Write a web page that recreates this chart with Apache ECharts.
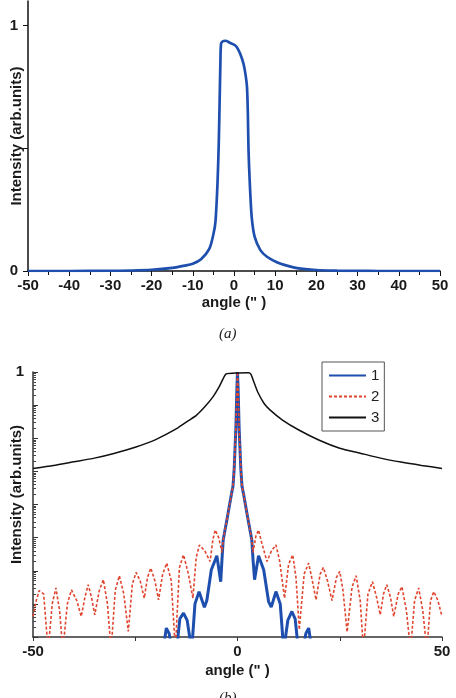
<!DOCTYPE html>
<html>
<head>
<meta charset="utf-8">
<title>Intensity vs angle</title>
<script src="https://cdn.jsdelivr.net/npm/echarts@6/dist/echarts.min.js"></script>
<style>
  html, body { margin: 0; padding: 0; background: #fff; }
  #main { width: 456px; height: 698px; }
</style>
</head>
<body>
<div id="main"></div>
<script>
// (a) linear intensity profile
var aAngle = [-50, -40, -30, -25, -20, -15, -12, -10, -8, -6, -5, -4.5, -4, -3.7, -3.5, -3.3, -3.15, -2.8, -2.1, -1, 0, 0.7, 1.5, 2.3, 2.8, 3.15, 3.35, 3.55, 4, 4.35, 5, 6.4, 8, 10.4, 12, 15.3, 20, 25, 30, 35, 50];
var aIntensity = [0, 0, 0.001, 0.002, 0.005, 0.013, 0.022, 0.03, 0.048, 0.09, 0.15, 0.2, 0.36, 0.52, 0.68, 0.85, 0.925, 0.935, 0.938, 0.93, 0.922, 0.912, 0.885, 0.845, 0.8, 0.75, 0.65, 0.48, 0.3, 0.21, 0.14, 0.085, 0.058, 0.036, 0.026, 0.012, 0.004, 0.0015, 0.0004, 0, 0];

// (b) log profiles, values read as log10(intensity)
var b1Angle = [-19, -18.2, -17.4, -16.7, -15.8, -14.9, -14.1, -13.2, -12.3, -11.2, -10.4, -9.4, -8.1, -7.5, -6.4, -5.05, -4.1, -3.8, -3.5, -2.5, -1.5, -1.1, -0.8, -0.4, -0.15, 0, 0.15, 0.4, 0.8, 1.1, 1.5, 2.5, 3.5, 3.8, 4.17, 5.15, 6.4, 7.6, 8.25, 9.4, 10.45, 11.3, 12.3, 13.3, 14.1, 14.9, 15.8, 16.7, 17.4, 18.2, 19];
var b1Log = [-8.8, -8.4, -7.73, -7.9, -8.6, -8.4, -7.45, -7.28, -7.5, -8.4, -7.0, -6.63, -7.1, -6.9, -5.97, -5.55, -6.33, -5.67, -5.07, -4.4, -3.7, -3.45, -2.9, -1.7, -0.5, 0, -0.5, -1.7, -2.9, -3.45, -3.7, -4.4, -5.07, -5.67, -6.27, -5.55, -5.97, -6.93, -7.1, -6.63, -7.0, -8.4, -7.5, -7.23, -7.45, -8.4, -8.6, -7.9, -7.73, -8.4, -8.8];

var b2Angle = [-50, -49.2, -48.5, -47.4, -46.3, -45.3, -44.4, -43.5, -42.7, -41.6, -40.6, -39.3, -38.2, -37.3, -36.5, -35.7, -34.9, -33.8, -32.8, -31.8, -30.9, -29.9, -28.9, -27.8, -26.7, -25.7, -24.8, -23.8, -22.8, -22.0, -21.2, -20.2, -19.3, -18.3, -17.3, -16.2, -15.2, -14.2, -13.2, -12.0, -10.9, -10.1, -9.3, -8.0, -6.7, -6.0, -5.46, -4.6, -3.8, -3.5, -2.5, -1.5, -1.1, -0.8, -0.4, -0.15, 0, 0.15, 0.4, 0.8, 1.1, 1.5, 2.5, 3.5, 3.8, 4.5, 5.15, 5.8, 7.2, 8.3, 9.4, 10.3, 11.5, 12.5, 13.5, 14.3, 15.1, 16.3, 17.4, 18.3, 19.2, 20.2, 21.0, 22.0, 23.1, 24.2, 25.0, 25.8, 26.8, 28.0, 29.0, 30.0, 30.8, 31.9, 33.0, 34.0, 34.9, 35.7, 36.5, 37.4, 38.2, 39.3, 40.2, 41.3, 42.3, 43.3, 44.3, 45.3, 46.3, 47.2, 48.0, 49.0, 50];
var b2Log = [-7.38, -6.9, -6.6, -6.7, -8.4, -7.0, -6.52, -7.2, -8.4, -7.0, -6.58, -6.9, -7.38, -6.8, -6.42, -6.8, -7.33, -6.6, -6.27, -7.0, -8.4, -6.6, -6.15, -6.7, -7.83, -6.4, -6.05, -6.3, -6.83, -6.2, -5.92, -6.3, -6.88, -6.1, -5.77, -6.3, -8.4, -5.9, -5.52, -6.1, -6.83, -5.6, -5.22, -5.4, -5.72, -5.05, -4.77, -5.0, -5.45, -5.07, -4.4, -3.7, -3.45, -2.9, -1.7, -0.5, 0, -0.5, -1.7, -2.9, -3.45, -3.7, -4.4, -5.07, -5.45, -4.95, -4.77, -5.1, -5.72, -5.4, -5.22, -5.7, -6.83, -5.8, -5.52, -6.2, -7.78, -6.1, -5.77, -6.3, -6.88, -6.1, -5.9, -6.3, -6.9, -6.2, -6.02, -6.6, -7.85, -6.5, -6.15, -6.9, -8.4, -6.7, -6.33, -6.8, -7.33, -6.7, -6.42, -6.8, -7.38, -6.7, -6.48, -7.2, -8.4, -6.9, -6.52, -7.2, -8.4, -6.9, -6.63, -6.9, -7.38];

var b3Angle = [-50, -45, -40, -35, -30, -25, -20, -15, -12, -10, -8, -6, -4.5, -3.5, -2.8, 0, 2.7, 3.3, 4, 5, 6.5, 8, 11, 15, 20, 25, 30, 35, 40, 45, 50];
var b3Log = [-2.91, -2.82, -2.71, -2.6, -2.45, -2.27, -2.04, -1.72, -1.47, -1.3, -1.05, -0.75, -0.45, -0.2, -0.06, -0.03, -0.02, -0.07, -0.3, -0.62, -0.95, -1.15, -1.45, -1.75, -2.06, -2.3, -2.45, -2.6, -2.72, -2.82, -2.91];

var xLabelsB = [-50, 0, 50];

var FONT = "'Liberation Sans', Arial, sans-serif";
var BLUE = '#1f4fae';
var RED = '#e0452f';

function pairs(xs, ys) {
  return xs.map(function (x, i) { return [x, ys[i]]; });
}
function logPairs(xs, ys) {
  return xs.map(function (x, i) { return [x, Math.pow(10, ys[i])]; });
}

var decades = [];
var minorLog = [];
for (var e = -8; e <= 0; e++) {
  decades.push(Math.pow(10, e));
  if (e < 0) {
    for (var m = 2; m <= 9; m++) minorLog.push(m * Math.pow(10, e));
  }
}

var labelStyle = { fontFamily: FONT, fontWeight: 'bold', fontSize: 15, color: '#1a1a1a' };
var nameStyle = { fontFamily: FONT, fontWeight: 'bold', fontSize: 15, color: '#1a1a1a' };

var chart = echarts.init(document.getElementById('main'));
chart.setOption({
  backgroundColor: '#ffffff',
  animation: false,
  grid: [
    { left: 28, top: 1, width: 412, height: 270, outerBoundsMode: 'none', containLabel: false },
    { left: 33, top: 372, width: 409, height: 265, outerBoundsMode: 'none', containLabel: false }
  ],
  legend: {
    data: ['1', '2', '3'],
    orient: 'vertical',
    left: 322,
    top: 362,
    padding: [6, 5, 6, 6],
    itemWidth: 37,
    itemHeight: 10,
    itemGap: 6,
    itemStyle: { opacity: 0 },
    borderColor: '#555',
    borderWidth: 1,
    textStyle: { fontFamily: FONT, fontSize: 15, color: '#222' }
  },
  xAxis: [
    {
      gridIndex: 0, type: 'value', min: -50, max: 50, interval: 10,
      name: 'angle (" )', nameLocation: 'middle', nameGap: 24, nameMoveOverlap: false, nameTextStyle: labelStyle,
      axisLine: { onZero: false, lineStyle: { color: '#111', width: 1.5 } },
      axisTick: { length: 5, lineStyle: { color: '#111' } },
      minorTick: { show: true, splitNumber: 2, length: 4, lineStyle: { color: '#111' } },
      splitLine: { show: false },
      axisLabel: Object.assign({ margin: 7 }, labelStyle)
    },
    {
      gridIndex: 1, type: 'value', min: -50, max: 50, interval: 25,
      name: 'angle (" )', nameLocation: 'middle', nameGap: 26, nameMoveOverlap: false, nameTextStyle: labelStyle,
      axisLine: { onZero: false, lineStyle: { color: '#333', width: 1.5 } },
      axisTick: { length: 4, lineStyle: { color: '#333' } },
      splitLine: { show: false },
      axisLabel: Object.assign({ margin: 7, customValues: xLabelsB }, labelStyle)
    }
  ],
  yAxis: [
    {
      gridIndex: 0, type: 'value', min: 0, max: 1.1, position: 'left',
      name: 'Intensity (arb.units)', nameLocation: 'middle', nameGap: 4, nameMoveOverlap: false, nameTextStyle: nameStyle,
      axisLine: { show: true, onZero: false, lineStyle: { color: '#111', width: 1.5 } },
      axisTick: { show: true, length: 5, customValues: [0, 0.5, 1], lineStyle: { color: '#111' } },
      splitLine: { show: false },
      axisLabel: Object.assign({ margin: 10, customValues: [0, 1] }, labelStyle)
    },
    {
      gridIndex: 1, type: 'log', logBase: 10, min: 1e-8, max: 1, position: 'left',
      name: 'Intensity (arb.units)', nameLocation: 'middle', nameGap: 8.5, nameMoveOverlap: false,
      nameTextStyle: Object.assign({ padding: [0, 0, 0, 20] }, nameStyle),
      axisLine: { show: true, onZero: false, lineStyle: { color: '#333', width: 1.5 } },
      axisTick: { show: true, inside: true, length: 5, customValues: decades, lineStyle: { color: '#333' } },
      splitLine: { show: false },
      axisLabel: Object.assign({ margin: 9, customValues: [1] }, labelStyle)
    },
    {
      gridIndex: 1, type: 'log', logBase: 10, min: 1e-8, max: 1, position: 'left', offset: 0,
      axisLine: { show: false, onZero: false },
      axisTick: { show: true, inside: true, length: 3, customValues: minorLog, lineStyle: { color: '#444' } },
      splitLine: { show: false },
      axisLabel: { show: false }
    }
  ],
  series: [
    {
      type: 'line', xAxisIndex: 0, yAxisIndex: 0, showSymbol: false, symbol: 'none',
      smooth: 0.3,
      lineStyle: { color: BLUE, width: 2.7 },
      data: pairs(aAngle, aIntensity)
    },
    {
      name: '1', type: 'line', xAxisIndex: 1, yAxisIndex: 1, symbol: 'none',
      itemStyle: { color: BLUE },
      lineStyle: { color: BLUE, width: 3 },
      data: logPairs(b1Angle, b1Log)
    },
    {
      name: '2', type: 'line', xAxisIndex: 1, yAxisIndex: 1, symbol: 'none',
      itemStyle: { color: RED },
      lineStyle: { color: RED, width: 1.6, type: [3, 2] },
      data: logPairs(b2Angle, b2Log)
    },
    {
      name: '3', type: 'line', xAxisIndex: 1, yAxisIndex: 1, symbol: 'none',
      smooth: 0.2,
      itemStyle: { color: '#111' },
      lineStyle: { color: '#111', width: 1.5 },
      data: logPairs(b3Angle, b3Log)
    }
  ],
  graphic: [
    { type: 'text', left: 219, top: 327, style: { text: '(a)', font: 'italic 15px "Liberation Serif", serif', fill: '#222' } },
    { type: 'text', left: 219, top: 691, style: { text: '(b)', font: 'italic 15px "Liberation Serif", serif', fill: '#222' } }
  ]
});
</script>
</body>
</html>
